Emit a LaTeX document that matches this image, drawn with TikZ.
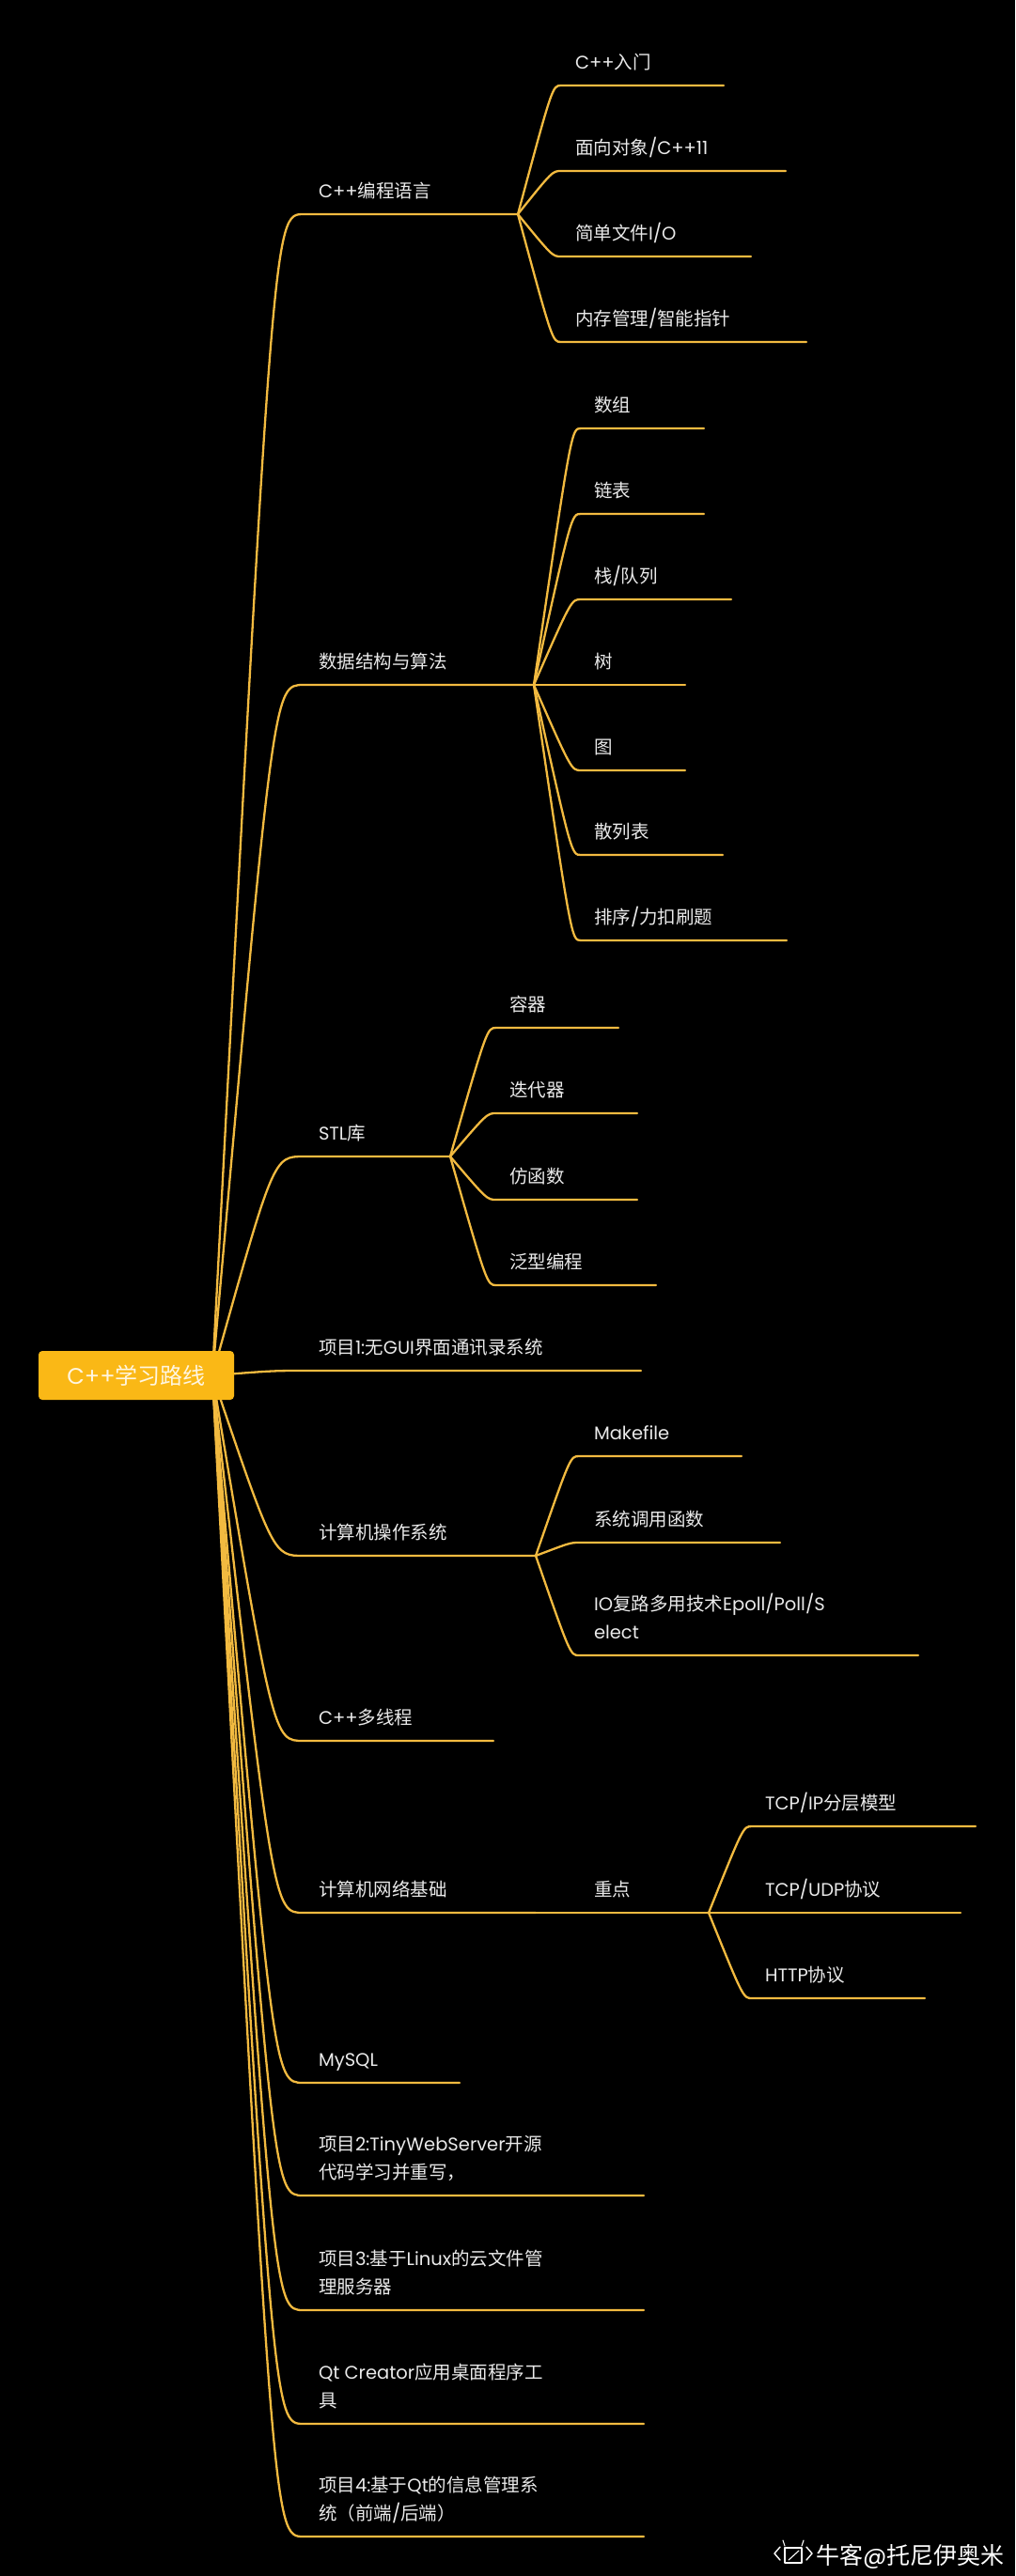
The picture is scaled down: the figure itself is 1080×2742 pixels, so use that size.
\documentclass[tikz,border=0pt]{standalone}
\usepackage{fontspec}
\setmainfont{Noto Sans CJK SC}
\newfontfamily\latf{Poppins}
\newcommand{\lt}[1]{{\latf #1}}
\usetikzlibrary{calc}
\newcommand{\dpt}{\rule[-6pt]{0pt}{6pt}}
\definecolor{gold}{RGB}{242,186,64}
\definecolor{rootfill}{RGB}{250,184,22}
\definecolor{txt}{RGB}{234,234,234}
\definecolor{roottxt}{RGB}{255,246,225}
\begin{document}
\begin{tikzpicture}[x=1pt,y=-1pt,
  link/.style={draw=gold, line width=2.3pt, line cap=round},
  curv/.style={to path={.. controls ($(\tikztotarget -| \tikztostart)!#1!(\tikztotarget)$) .. (\tikztotarget)}},
  curv/.default=0.8,
  tt/.style={anchor=south west, inner sep=0pt, outer sep=0pt, text=txt,
    font=\fontsize{19.5pt}{29.5pt}\selectfont, align=left},
  rootbox/.style={fill=rootfill, rounded corners=4pt, minimum width=208pt,
    minimum height=52pt, inner sep=0pt, text=roottxt, font=\fontsize{24pt}{28pt}\selectfont},
  wmline/.style={draw=white, line width=1.4pt, line cap=round, line join=round}
]
\useasboundingbox (0,0) rectangle (1080,2742);
\fill[black] (0,0) rectangle (1080,2742);

% ---------- coordinates ----------
\coordinate (rS) at (226,1464);
% level 1 corners and ends
\coordinate (A) at (323,228);  \coordinate (Af) at (551,228);
\coordinate (B) at (323,729);  \coordinate (Bf) at (568,729);
\coordinate (C) at (323,1231); \coordinate (Cf) at (479,1231);
\coordinate (D) at (323,1459); \coordinate (De) at (682,1459);
\coordinate (E) at (323,1656); \coordinate (Ef) at (570,1656);
\coordinate (F) at (323,1853); \coordinate (Fe) at (525,1853);
\coordinate (G) at (323,2036); \coordinate (Gf) at (570,2036);
\coordinate (H) at (323,2217); \coordinate (He) at (489,2217);
\coordinate (I) at (323,2337); \coordinate (Ie) at (685,2337);
\coordinate (J) at (323,2459); \coordinate (Je) at (685,2459);
\coordinate (K) at (323,2580); \coordinate (Ke) at (685,2580);
\coordinate (L) at (323,2700); \coordinate (Le) at (685,2700);
% level 2
\coordinate (A1) at (597,91);  \coordinate (A1e) at (770,91);
\coordinate (A2) at (597,182); \coordinate (A2e) at (836,182);
\coordinate (A3) at (597,273); \coordinate (A3e) at (799,273);
\coordinate (A4) at (597,364); \coordinate (A4e) at (858,364);
\coordinate (B1) at (618,456);  \coordinate (B1e) at (749,456);
\coordinate (B2) at (618,547);  \coordinate (B2e) at (749,547);
\coordinate (B3) at (618,638);  \coordinate (B3e) at (778,638);
\coordinate (B4) at (618,729);  \coordinate (B4e) at (729,729);
\coordinate (B5) at (618,820);  \coordinate (B5e) at (729,820);
\coordinate (B6) at (618,910);  \coordinate (B6e) at (769,910);
\coordinate (B7) at (618,1001); \coordinate (B7e) at (837,1001);
\coordinate (C1) at (528,1094); \coordinate (C1e) at (658,1094);
\coordinate (C2) at (528,1185); \coordinate (C2e) at (678,1185);
\coordinate (C3) at (528,1277); \coordinate (C3e) at (678,1277);
\coordinate (C4) at (528,1368); \coordinate (C4e) at (698,1368);
\coordinate (E1) at (616,1550); \coordinate (E1e) at (789,1550);
\coordinate (E2) at (616,1642); \coordinate (E2e) at (830,1642);
\coordinate (E3) at (616,1762); \coordinate (E3e) at (977,1762);
\coordinate (G1) at (618,2036); \coordinate (G1f) at (754,2036);
\coordinate (G11) at (800,1944); \coordinate (G11e) at (1038,1944);
\coordinate (G12) at (800,2036); \coordinate (G12e) at (1022,2036);
\coordinate (G13) at (800,2127); \coordinate (G13e) at (984,2127);

% ---------- connectors ----------
\foreach \n/\e in {A/Af,B/Bf,C/Cf,D/De,E/Ef,F/Fe,G/Gf,H/He,I/Ie,J/Je,K/Ke,L/Le}
  \draw[link] (rS) to[curv=0.67] (\n) -- (\e);
\foreach \p/\n/\e in {Af/A1/A1e,Af/A2/A2e,Af/A3/A3e,Af/A4/A4e,
    Bf/B1/B1e,Bf/B2/B2e,Bf/B3/B3e,Bf/B4/B4e,Bf/B5/B5e,Bf/B6/B6e,Bf/B7/B7e,
    Cf/C1/C1e,Cf/C2/C2e,Cf/C3/C3e,Cf/C4/C4e,
    Ef/E1/E1e,Ef/E2/E2e,Ef/E3/E3e,
    Gf/G1/G1f,G1f/G11/G11e,G1f/G12/G12e,G1f/G13/G13e}
  \draw[link] (\p) to[curv] (\n) -- (\e);

% ---------- root ----------
\node[rootbox] (root) at (145,1464) {\lt{C++}学习路线};

% ---------- level 1 texts ----------
\node[tt] (tA) at (339,216.4) {\lt{C++}编程语言\dpt};
\node[tt] (tB) at (339,717.4) {数据结构与算法\dpt};
\node[tt] (tC) at (339,1219.4) {\lt{STL}库\dpt};
\node[tt] (tD) at (339,1447.4) {项目\lt{1:}无\lt{GUI}界面通讯录系统\dpt};
\node[tt] (tE) at (339,1644.4) {计算机操作系统\dpt};
\node[tt] (tF) at (339,1841.4) {\lt{C++}多线程\dpt};
\node[tt] (tG) at (339,2024.4) {计算机网络基础\dpt};
\node[tt] (tH) at (339,2205.4) {\lt{MySQL}\dpt};
\node[tt] (tI) at (339,2325.4) {项目\lt{2:TinyWebServer}开源\\代码学习并重写，\dpt};
\node[tt] (tJ) at (339,2447.4) {项目\lt{3:}基于\lt{Linux}的云文件管\\理服务器\dpt};
\node[tt] (tK) at (339,2568.4) {\lt{Qt Creator}应用桌面程序工\\具\dpt};
\node[tt] (tL) at (339,2688.4) {项目\lt{4:}基于\lt{Qt}的信息管理系\\统（前端\lt{/}后端）\dpt};

% ---------- level 2 texts ----------
\node[tt] (tA1) at (612,79.4) {\lt{C++}入门\dpt};
\node[tt] (tA2) at (612,170.4) {面向对象\lt{/C++11}\dpt};
\node[tt] (tA3) at (612,261.4) {简单文件\lt{I/O}\dpt};
\node[tt] (tA4) at (612,352.4) {内存管理\lt{/}智能指针\dpt};
\node[tt] (tB1) at (632,444.4) {数组\dpt};
\node[tt] (tB2) at (632,535.4) {链表\dpt};
\node[tt] (tB3) at (632,626.4) {栈\lt{/}队列\dpt};
\node[tt] (tB4) at (632,717.4) {树\dpt};
\node[tt] (tB5) at (632,808.4) {图\dpt};
\node[tt] (tB6) at (632,898.4) {散列表\dpt};
\node[tt] (tB7) at (632,989.4) {排序\lt{/}力扣刷题\dpt};
\node[tt] (tC1) at (542,1082.4) {容器\dpt};
\node[tt] (tC2) at (542,1173.4) {迭代器\dpt};
\node[tt] (tC3) at (542,1265.4) {仿函数\dpt};
\node[tt] (tC4) at (542,1356.4) {泛型编程\dpt};
\node[tt] (tE1) at (632,1538.4) {\lt{Makefile}\dpt};
\node[tt] (tE2) at (632,1630.4) {系统调用函数\dpt};
\node[tt] (tE3) at (632,1750.4) {\lt{IO}复路多用技术\lt{Epoll/Poll/S}\\\lt{elect}\dpt};
\node[tt] (tG1) at (632,2024.4) {重点\dpt};
\node[tt] (tG11) at (814,1932.4) {\lt{TCP/IP}分层模型\dpt};
\node[tt] (tG12) at (814,2024.4) {\lt{TCP/UDP}协议\dpt};
\node[tt] (tG13) at (814,2115.4) {\lt{HTTP}协议\dpt};

% ---------- watermark ----------
\draw[wmline] (830,2711) -- (824,2718) -- (830,2725);
\draw[wmline] (858,2711) -- (864,2718) -- (858,2725);
\draw[wmline, line width=1.1pt] (835,2712) rectangle (853,2728);
\draw[wmline, line width=1.1pt] (839,2725) -- (850,2715);
\draw[wmline, line width=1.1pt] (833,2704) -- (835,2710);
\draw[wmline, line width=1.1pt] (855,2704) -- (853,2710);
\node[anchor=base west, inner sep=0pt, text=white,
  font=\fontsize{25pt}{28pt}\selectfont] (wm) at (868,2729) {牛客\lt{@}托尼伊奥米};
\end{tikzpicture}
\end{document}
